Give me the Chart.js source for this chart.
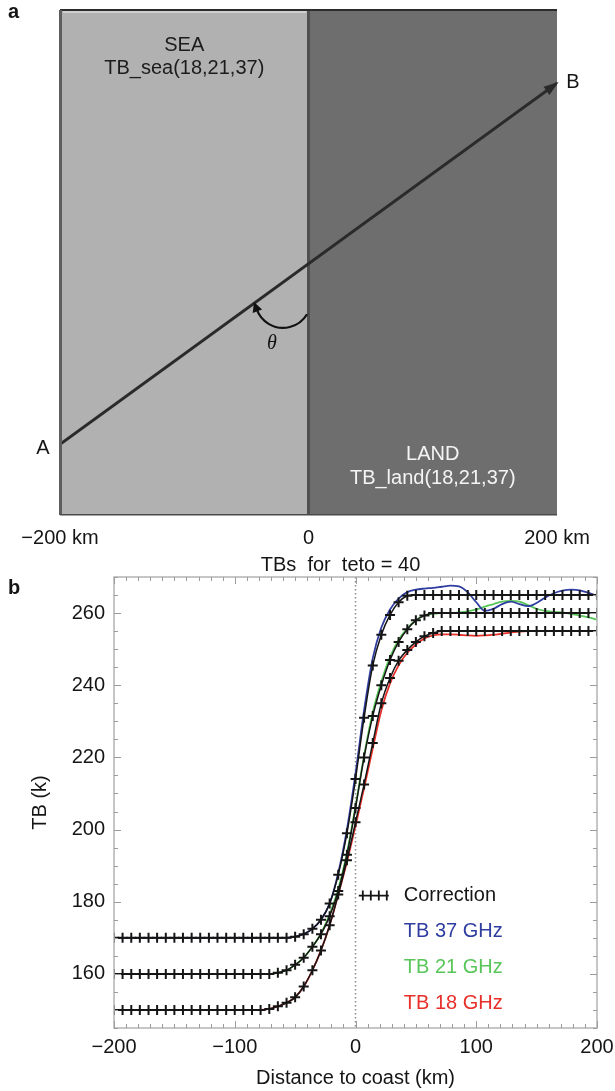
<!DOCTYPE html>
<html>
<head>
<meta charset="utf-8">
<script src="https://cdn.jsdelivr.net/npm/chart.js@4.4.1/dist/chart.umd.min.js"></script>
<style>
  body { margin: 0; background: #fff; }
  #wrapA { position: absolute; left: 0; top: 0; }
  #wrapB { position: absolute; left: 0; top: 545px; }
</style>
</head>
<body>
<div id="wrapA"><canvas id="chartA" width="615" height="555"></canvas></div>
<div id="wrapB"><canvas id="chartB" width="615" height="546"></canvas></div>
<script>
// ---- panel a: track crossing the coast ----
const aTicks = [-200, 0, 200];
const aTickLabels = ["\u2212200 km", "0", "200 km"];
const seaRange = [-200, 0];
const landRange = [0, 200];
const trackX = [-200, 200];
const trackY = [14, 85.5];

// ---- panel b: TBs for teto = 40 ----
const dist = [
  -200, -192.9, -185.7, -178.6, -171.4, -164.3, -157.1, -150, -142.9, -135.7,
  -128.6, -121.4, -114.3, -107.1, -100, -92.9, -85.7, -78.6, -71.4, -64.3,
  -57.1, -50, -42.9, -35.7, -28.6, -21.4, -14.3, -7.1, 0, 7.1,
  14.3, 21.4, 28.6, 35.7, 42.9, 50, 57.1, 64.3, 71.4, 78.6,
  85.7, 92.9, 100, 107.1, 114.3, 121.4, 128.6, 135.7, 142.9, 150,
  157.1, 164.3, 171.4, 178.6, 185.7, 192.9, 200
];
const corr37 = [
  170, 170, 170, 170, 170, 170, 170, 170, 170, 170,
  170, 170, 170, 170, 170, 170, 170, 170, 170, 170,
  170, 170.3, 171, 172.5, 175, 179.5, 187.5, 199, 214, 231,
  245.5, 254, 259.5, 263, 264.8, 265, 265, 265, 265, 265,
  265, 265, 265, 265, 265, 265, 265, 265, 265, 265,
  265, 265, 265, 265, 265, 265, 265
];
const corr21 = [
  160, 160, 160, 160, 160, 160, 160, 160, 160, 160,
  160, 160, 160, 160, 160, 160, 160, 160, 160, 160.3,
  161, 162.5, 164.5, 167.5, 171, 176, 183, 193, 206, 220,
  231.5, 240, 247, 252, 255.5, 258, 259.3, 260, 260, 260,
  260, 260, 260, 260, 260, 260, 260, 260, 260, 260,
  260, 260, 260, 260, 260, 260, 260
];
const corr18 = [
  150, 150, 150, 150, 150, 150, 150, 150, 150, 150,
  150, 150, 150, 150, 150, 150, 150, 150, 150.3, 151,
  152, 153.5, 156.5, 161, 166.5, 173.5, 182, 191.5, 202, 212.5,
  224, 235, 242, 246.8, 249.8, 252, 253.6, 254.5, 255, 255,
  255, 255, 255, 255, 255, 255, 255, 255, 255, 255,
  255, 255, 255, 255, 255, 255, 255
];
const tb37 = [
  170, 170, 170, 170, 170, 170, 170, 170, 170, 170,
  170, 170, 170, 170, 170, 170, 170, 170, 170, 170,
  170, 170.3, 171, 172.5, 175, 179.5, 188, 200, 215.5, 233,
  247.5, 256, 261, 264, 265.8, 266.5, 266.8, 267, 267.3, 267.6,
  267.4, 265.8, 263, 260.6, 261.2, 262.5, 263.2, 262.5, 261.9, 262.8,
  264.3, 265.5, 266.2, 266.5, 266.3, 265.6, 264.8
];
const tb21 = [
  160, 160, 160, 160, 160, 160, 160, 160, 160, 160,
  160, 160, 160, 160, 160, 160, 160, 160, 160, 160.3,
  161, 162.5, 164.5, 167.5, 171.2, 176.5, 183.5, 193.5, 206.5, 220.5,
  232.5, 241, 247.8, 252.6, 255.8, 258, 259.4, 259.8, 260, 260,
  260.2, 260.5, 261, 261.8, 262.5, 263.2, 263.4, 263.2, 262.2, 261.2,
  260.6, 260.3, 260.2, 259.8, 259.3, 258.8, 258.2
];
const tb18 = [
  150, 150, 150, 150, 150, 150, 150, 150, 150, 150,
  150, 150, 150, 150, 150, 150, 150, 150, 150.3, 151,
  152, 153.5, 156.5, 161, 166.5, 173.5, 182, 191, 201, 211.5,
  222.5, 233, 240.5, 245.5, 249, 251.3, 253, 253.8, 254.1, 254.1,
  254, 253.8, 253.7, 253.8, 254, 254.3, 254.6, 254.9, 255, 255,
  255, 255, 255, 255, 255, 255, 255
];
const xTicks = [-200, -100, 0, 100, 200];
const yTicks = [160, 180, 200, 220, 240, 260];

const FONT = "'Liberation Sans', Arial, sans-serif";
Chart.defaults.font.family = FONT;
Chart.defaults.font.size = 20;
Chart.defaults.color = '#151515';

const BLUE = '#2f3da0', GREEN = '#58c658', RED = '#e8302a';

function pts(xs, ys) {
  return xs.map((x, i) => ({ x: x, y: ys[i] }));
}

// ---------- panel a ----------
const panelA = {
  id: 'panelA',
  afterDatasetsDraw(chart) {
    const { ctx, chartArea: a, scales: { x, y } } = chart;
    ctx.save();

    // box edges
    ctx.fillStyle = '#2c2c2c';
    ctx.fillRect(a.left, a.top - 1, a.right - a.left, 2);
    ctx.fillStyle = '#cfcfcf';
    ctx.fillRect(a.left + 3, a.top + 1, x.getPixelForValue(0) - a.left - 5, 2);
    ctx.fillStyle = '#5e5e5e';
    ctx.fillRect(a.left - 1, a.top, 3, a.bottom - a.top);
    ctx.fillStyle = '#4a4a4a';
    ctx.fillRect(a.left, a.bottom - 1, a.right - a.left, 1.5);

    // arrowhead at B
    const m = chart.getDatasetMeta(0).data;
    const p0 = m[0], p1 = m[m.length - 1];
    const ang = Math.atan2(p1.y - p0.y, p1.x - p0.x);
    ctx.translate(p1.x, p1.y);
    ctx.rotate(ang);
    ctx.fillStyle = '#2a2a2a';
    ctx.beginPath();
    ctx.moveTo(2, 0);
    ctx.lineTo(-13, -5);
    ctx.lineTo(-13, 5);
    ctx.closePath();
    ctx.fill();
    ctx.setTransform(1, 0, 0, 1, 0, 0);

    // theta arc
    const cx = x.getPixelForValue(-20.5), cy = y.getPixelForValue(42.6), r = 28;
    const a0 = 31 * Math.PI / 180, a1 = 160 * Math.PI / 180;
    ctx.strokeStyle = '#111';
    ctx.lineWidth = 2.2;
    ctx.beginPath();
    ctx.arc(cx, cy, r, a0, a1, false);
    ctx.stroke();
    const ex = cx + r * Math.cos(a1), ey = cy + r * Math.sin(a1);
    const dir = Math.atan2(Math.cos(a1), -Math.sin(a1));
    ctx.translate(ex, ey);
    ctx.rotate(dir);
    ctx.fillStyle = '#111';
    ctx.beginPath();
    ctx.moveTo(8, 0);
    ctx.lineTo(-2, -5);
    ctx.lineTo(-2, 5);
    ctx.closePath();
    ctx.fill();
    ctx.setTransform(1, 0, 0, 1, 0, 0);

    ctx.font = "italic 20px 'Liberation Serif', serif";
    ctx.fillStyle = '#111';
    ctx.textAlign = 'center';
    ctx.textBaseline = 'middle';
    ctx.fillText('\u03b8', x.getPixelForValue(-29.4), y.getPixelForValue(34));

    // region labels
    ctx.font = '20px ' + FONT;
    ctx.fillStyle = '#1c1c1c';
    ctx.fillText('SEA', x.getPixelForValue(-100), y.getPixelForValue(93));
    ctx.fillText('TB_sea(18,21,37)', x.getPixelForValue(-100), y.getPixelForValue(88.4));
    ctx.fillStyle = '#f4f4f4';
    ctx.fillText('LAND', x.getPixelForValue(100), y.getPixelForValue(11.9));
    ctx.fillText('TB_land(18,21,37)', x.getPixelForValue(100), y.getPixelForValue(7.3));

    // A / B
    ctx.fillStyle = '#151515';
    ctx.fillText('A', a.left - 17, p0.y + 4);
    ctx.fillText('B', a.right + 16, p1.y - 1);

    ctx.font = 'bold 20px ' + FONT;
    ctx.textAlign = 'left';
    ctx.fillText('a', 8, 12);
    ctx.restore();
  }
};

new Chart(document.getElementById('chartA'), {
  type: 'line',
  data: {
    datasets: [
      { label: 'track', data: pts(trackX, trackY), borderColor: '#2a2a2a', borderWidth: 3, pointRadius: 0, order: 0 },
      { label: 'coast', data: pts([seaRange[1], seaRange[1]], [0, 100]), borderColor: '#505050', borderWidth: 3, pointRadius: 0, order: 1 },
      { label: 'land', data: pts(landRange, [100, 100]), fill: 'origin', backgroundColor: '#6e6e6e', borderColor: 'transparent', borderWidth: 0, pointRadius: 0, order: 2 },
      { label: 'sea', data: pts(seaRange, [100, 100]), fill: 'origin', backgroundColor: '#b1b1b1', borderColor: 'transparent', borderWidth: 0, pointRadius: 0, order: 3 }
    ]
  },
  options: {
    responsive: false,
    animation: false,
    layout: { padding: { left: 60, right: 58, top: 10, bottom: 0 } },
    plugins: { legend: { display: false }, tooltip: { enabled: false } },
    scales: {
      x: {
        type: 'linear', min: -200, max: 200,
        grid: { display: false, drawTicks: false },
        border: { display: false },
        ticks: { padding: 11, callback: v => aTickLabels[aTicks.indexOf(v)] },
        afterBuildTicks: s => { s.ticks = aTicks.map(v => ({ value: v })); },
        afterFit: s => { s.height = 40; }
      },
      y: { min: 0, max: 100, display: false }
    }
  },
  plugins: [panelA]
});

// ---------- panel b ----------
const panelB = {
  id: 'panelB',
  beforeDatasetsDraw(chart) {
    const { ctx, chartArea: a, scales: { x } } = chart;
    const px = x.getPixelForValue(0);
    ctx.save();
    ctx.strokeStyle = '#8a8a8a';
    ctx.lineWidth = 1.5;
    ctx.setLineDash([1.5, 2.5]);
    ctx.beginPath();
    ctx.moveTo(px, a.top);
    ctx.lineTo(px, a.bottom);
    ctx.stroke();
    ctx.restore();
  },
  afterDraw(chart) {
    const { ctx, chartArea: a, scales: { x, y } } = chart;
    ctx.save();
    // frame
    ctx.strokeStyle = '#b4b4b4';
    ctx.lineWidth = 1.5;
    ctx.strokeRect(a.left, a.top, a.right - a.left, a.bottom - a.top);
    // inward ticks
    ctx.strokeStyle = '#9c9c9c';
    ctx.lineWidth = 1;
    ctx.beginPath();
    for (let v = -200; v <= 200; v += 10) {
      const px = Math.round(x.getPixelForValue(v)) + 0.5;
      const len = xTicks.includes(v) ? 7 : 4;
      ctx.moveTo(px, a.bottom); ctx.lineTo(px, a.bottom - len);
      ctx.moveTo(px, a.top); ctx.lineTo(px, a.top + len);
    }
    for (let v = 145; v <= 270; v += 5) {
      const py = Math.round(y.getPixelForValue(v)) + 0.5;
      const len = yTicks.includes(v) ? 7 : 4;
      ctx.moveTo(a.left, py); ctx.lineTo(a.left + len, py);
      ctx.moveTo(a.right, py); ctx.lineTo(a.right - len, py);
    }
    ctx.stroke();

    // legend
    const tx = x.getPixelForValue(40);
    const rows = [
      ['Correction', '#151515', 181.7],
      ['TB 37 GHz', BLUE, 171.7],
      ['TB 21 GHz', GREEN, 161.7],
      ['TB 18 GHz', RED, 151.7]
    ];
    ctx.font = '20px ' + FONT;
    ctx.textAlign = 'left';
    ctx.textBaseline = 'middle';
    rows.forEach(r => {
      ctx.fillStyle = r[1];
      ctx.fillText(r[0], tx, y.getPixelForValue(r[2]));
    });
    const ly = y.getPixelForValue(rows[0][2]);
    ctx.strokeStyle = '#151515';
    ctx.lineWidth = 1.8;
    ctx.beginPath();
    ctx.moveTo(tx - 45, ly); ctx.lineTo(tx - 15, ly);
    for (let k = 0; k < 4; k++) {
      const cx = tx - 41 + k * 8;
      ctx.moveTo(cx, ly - 5); ctx.lineTo(cx, ly + 5);
    }
    ctx.stroke();

    // title and panel letter
    ctx.fillStyle = '#151515';
    ctx.textAlign = 'center';
    ctx.fillText('TBs  for  teto = 40', (a.left + a.right) / 2 - 15, 20);
    ctx.font = 'bold 20px ' + FONT;
    ctx.textAlign = 'left';
    ctx.fillText('b', 8, 43);
    ctx.restore();
  }
};

function corrSet(vals) {
  return {
    label: 'Correction', data: pts(dist, vals), order: 0,
    borderColor: '#151515', borderWidth: 1.5, tension: 0.3,
    pointStyle: 'cross', pointRadius: 5, pointBorderWidth: 2,
    pointBorderColor: '#151515'
  };
}
function tbSet(label, vals, color) {
  return {
    label: label, data: pts(dist, vals), order: 1,
    borderColor: color, borderWidth: 1.8, pointRadius: 0,
    cubicInterpolationMode: 'monotone'
  };
}

const fmt = v => (v < 0 ? '\u2212' + Math.abs(v) : String(v));

new Chart(document.getElementById('chartB'), {
  type: 'line',
  data: {
    datasets: [
      corrSet(corr37), corrSet(corr21), corrSet(corr18),
      tbSet('TB 37 GHz', tb37, BLUE),
      tbSet('TB 21 GHz', tb21, GREEN),
      tbSet('TB 18 GHz', tb18, RED)
    ]
  },
  options: {
    responsive: false,
    animation: false,
    layout: { padding: { left: 26, right: 18, top: 32, bottom: 0 } },
    plugins: { legend: { display: false }, tooltip: { enabled: false } },
    scales: {
      x: {
        type: 'linear', min: -200, max: 200,
        grid: { display: false, drawTicks: false },
        border: { display: false },
        ticks: { padding: 7, callback: fmt },
        afterBuildTicks: s => { s.ticks = xTicks.map(v => ({ value: v })); },
        afterFit: s => { s.height = 63; s.paddingLeft = 0; s.paddingRight = 0; },
        title: { display: true, text: 'Distance to coast (km)', padding: { top: 0, bottom: 1 } }
      },
      y: {
        type: 'linear', min: 145, max: 270,
        grid: { display: false, drawTicks: false },
        border: { display: false },
        ticks: { padding: 9 },
        afterBuildTicks: s => { s.ticks = yTicks.map(v => ({ value: v })); },
        afterFit: s => { s.width = 88; },
        title: { display: true, text: 'TB (k)', padding: { top: 2, bottom: 0 } }
      }
    }
  },
  plugins: [panelB]
});
</script>
</body>
</html>
